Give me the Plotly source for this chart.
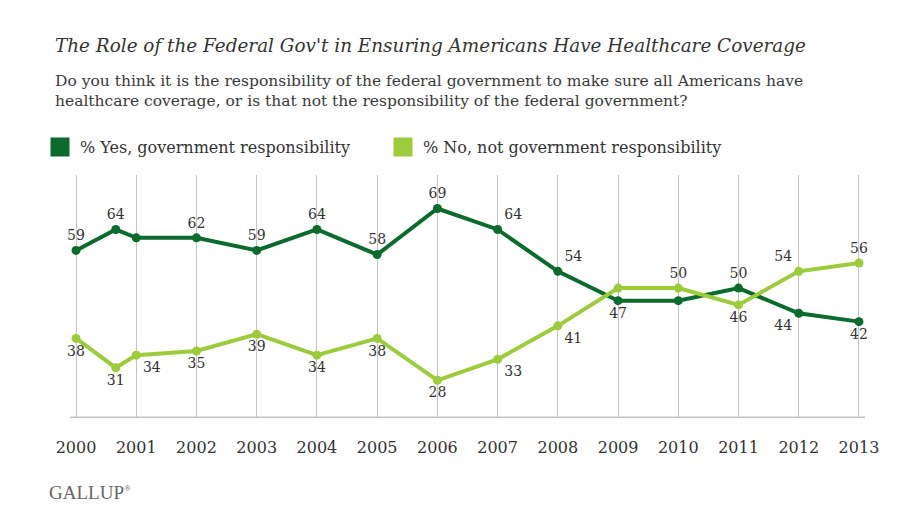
import plotly.graph_objects as go

# Gallup: federal gov't responsibility for healthcare coverage
years = [2000, 2000.66, 2001, 2002, 2003, 2004, 2005, 2006, 2007, 2008, 2009, 2010, 2011, 2012, 2013]
yes_pct = [59, 64, 62, 62, 59, 64, 58, 69, 64, 54, 47, 47, 50, 44, 42]
no_pct = [38, 31, 34, 35, 39, 34, 38, 28, 33, 41, 50, 50, 46, 54, 56]
tick_years = list(range(2000, 2014))

# which points carry a value label in the original
yes_show = [1, 1, 0, 1, 1, 1, 1, 1, 1, 1, 1, 0, 1, 1, 1]
no_show = [1, 1, 1, 1, 1, 1, 1, 1, 1, 1, 0, 1, 1, 1, 1]
yes_pos = ['top center', 'top center', 'top center', 'top center', 'top center', 'top center',
           'top center', 'top center', 'top right', 'top right', 'bottom center', 'bottom center',
           'top center', 'bottom left', 'bottom center']
no_pos = ['bottom center', 'bottom center', 'bottom right', 'bottom center', 'bottom center',
          'bottom center', 'bottom center', 'bottom center', 'bottom right', 'bottom right',
          'top center', 'top center', 'bottom center', 'top left', 'top center']

DARK = '#0b6b2c'
LIGHT = '#9ccb3c'
SERIF = 'DejaVu Serif, Liberation Serif, serif'
TXT = '#333333'

# page body adds an 8px margin, so work in figure pixels = screen pixels - 8
OFF = 8
W, H = 914, 531
L, T = 70 - OFF, 175 - OFF
R, B = W - (865 - OFF), H - (418 - OFF)


def px(xp):
    return (xp - OFF - L) / (W - L - R)


def py(yp):
    return (H - B - (yp - OFF)) / (H - T - B)


fig = go.Figure()

fig.add_trace(go.Scatter(
    x=years, y=yes_pct, mode='lines+markers+text', showlegend=False,
    line=dict(color=DARK, width=4), marker=dict(color=DARK, size=9),
    text=[str(v) if s else '' for v, s in zip(yes_pct, yes_show)],
    textposition=yes_pos, textfont=dict(family=SERIF, size=14, color=TXT),
    cliponaxis=False))
fig.add_trace(go.Scatter(
    x=years, y=no_pct, mode='lines+markers+text', showlegend=False,
    line=dict(color=LIGHT, width=4), marker=dict(color=LIGHT, size=9),
    text=[str(v) if s else '' for v, s in zip(no_pct, no_show)],
    textposition=no_pos, textfont=dict(family=SERIF, size=14, color=TXT),
    cliponaxis=False))

# legend-only entries with square swatches
for name, col in [('% Yes, government responsibility', DARK),
                  ('% No, not government responsibility', LIGHT)]:
    fig.add_trace(go.Scatter(x=[None], y=[None], mode='markers', name=name,
                             marker=dict(symbol='square', size=16, color=col,
                                         line=dict(color=col, width=3))))

fig.add_annotation(x=px(53), y=py(45), xref='paper', yref='paper', xanchor='left', yanchor='middle',
                   showarrow=False, align='left',
                   text="<i>The Role of the Federal Gov't in Ensuring Americans Have Healthcare Coverage</i>",
                   font=dict(family=SERIF, size=18.4, color=TXT))
fig.add_annotation(x=px(53), y=py(91), xref='paper', yref='paper', xanchor='left', yanchor='middle',
                   showarrow=False, align='left',
                   text='Do you think it is the responsibility of the federal government to make sure all Americans have'
                        '<br>healthcare coverage, or is that not the responsibility of the federal government?',
                   font=dict(family=SERIF, size=15.5, color='#3a3a3a'))
fig.add_annotation(x=px(47), y=py(492), xref='paper', yref='paper', xanchor='left', yanchor='middle',
                   showarrow=False, text='GALLUP<sup><span style="font-size:9px">®</span></sup>',
                   font=dict(family='Liberation Serif, serif', size=19, color='#666666'))

fig.add_shape(type='line', xref='paper', yref='y', x0=0, x1=1, y0=19, y1=19,
              line=dict(color='#c4c4c4', width=3))

fig.update_layout(
    width=W, height=H,
    margin=dict(l=L, r=R, t=T, b=B),
    paper_bgcolor='white', plot_bgcolor='white',
    font=dict(family=SERIF, color=TXT),
    legend=dict(orientation='h', x=px(40), y=py(147), xanchor='left', yanchor='middle',
                entrywidth=298, font=dict(family=SERIF, size=16, color=TXT),
                bgcolor='rgba(0,0,0,0)'),
    xaxis=dict(range=[1999.9, 2013.1], tickvals=tick_years, showgrid=True, gridcolor='#c4c4c4',
               gridwidth=1, zeroline=False, showline=False, ticks='', ticklabelstandoff=18,
               tickfont=dict(family=SERIF, size=16, color=TXT)),
    yaxis=dict(range=[19, 77], showgrid=False, zeroline=False, showticklabels=False),
)

fig.write_html('out.html')
